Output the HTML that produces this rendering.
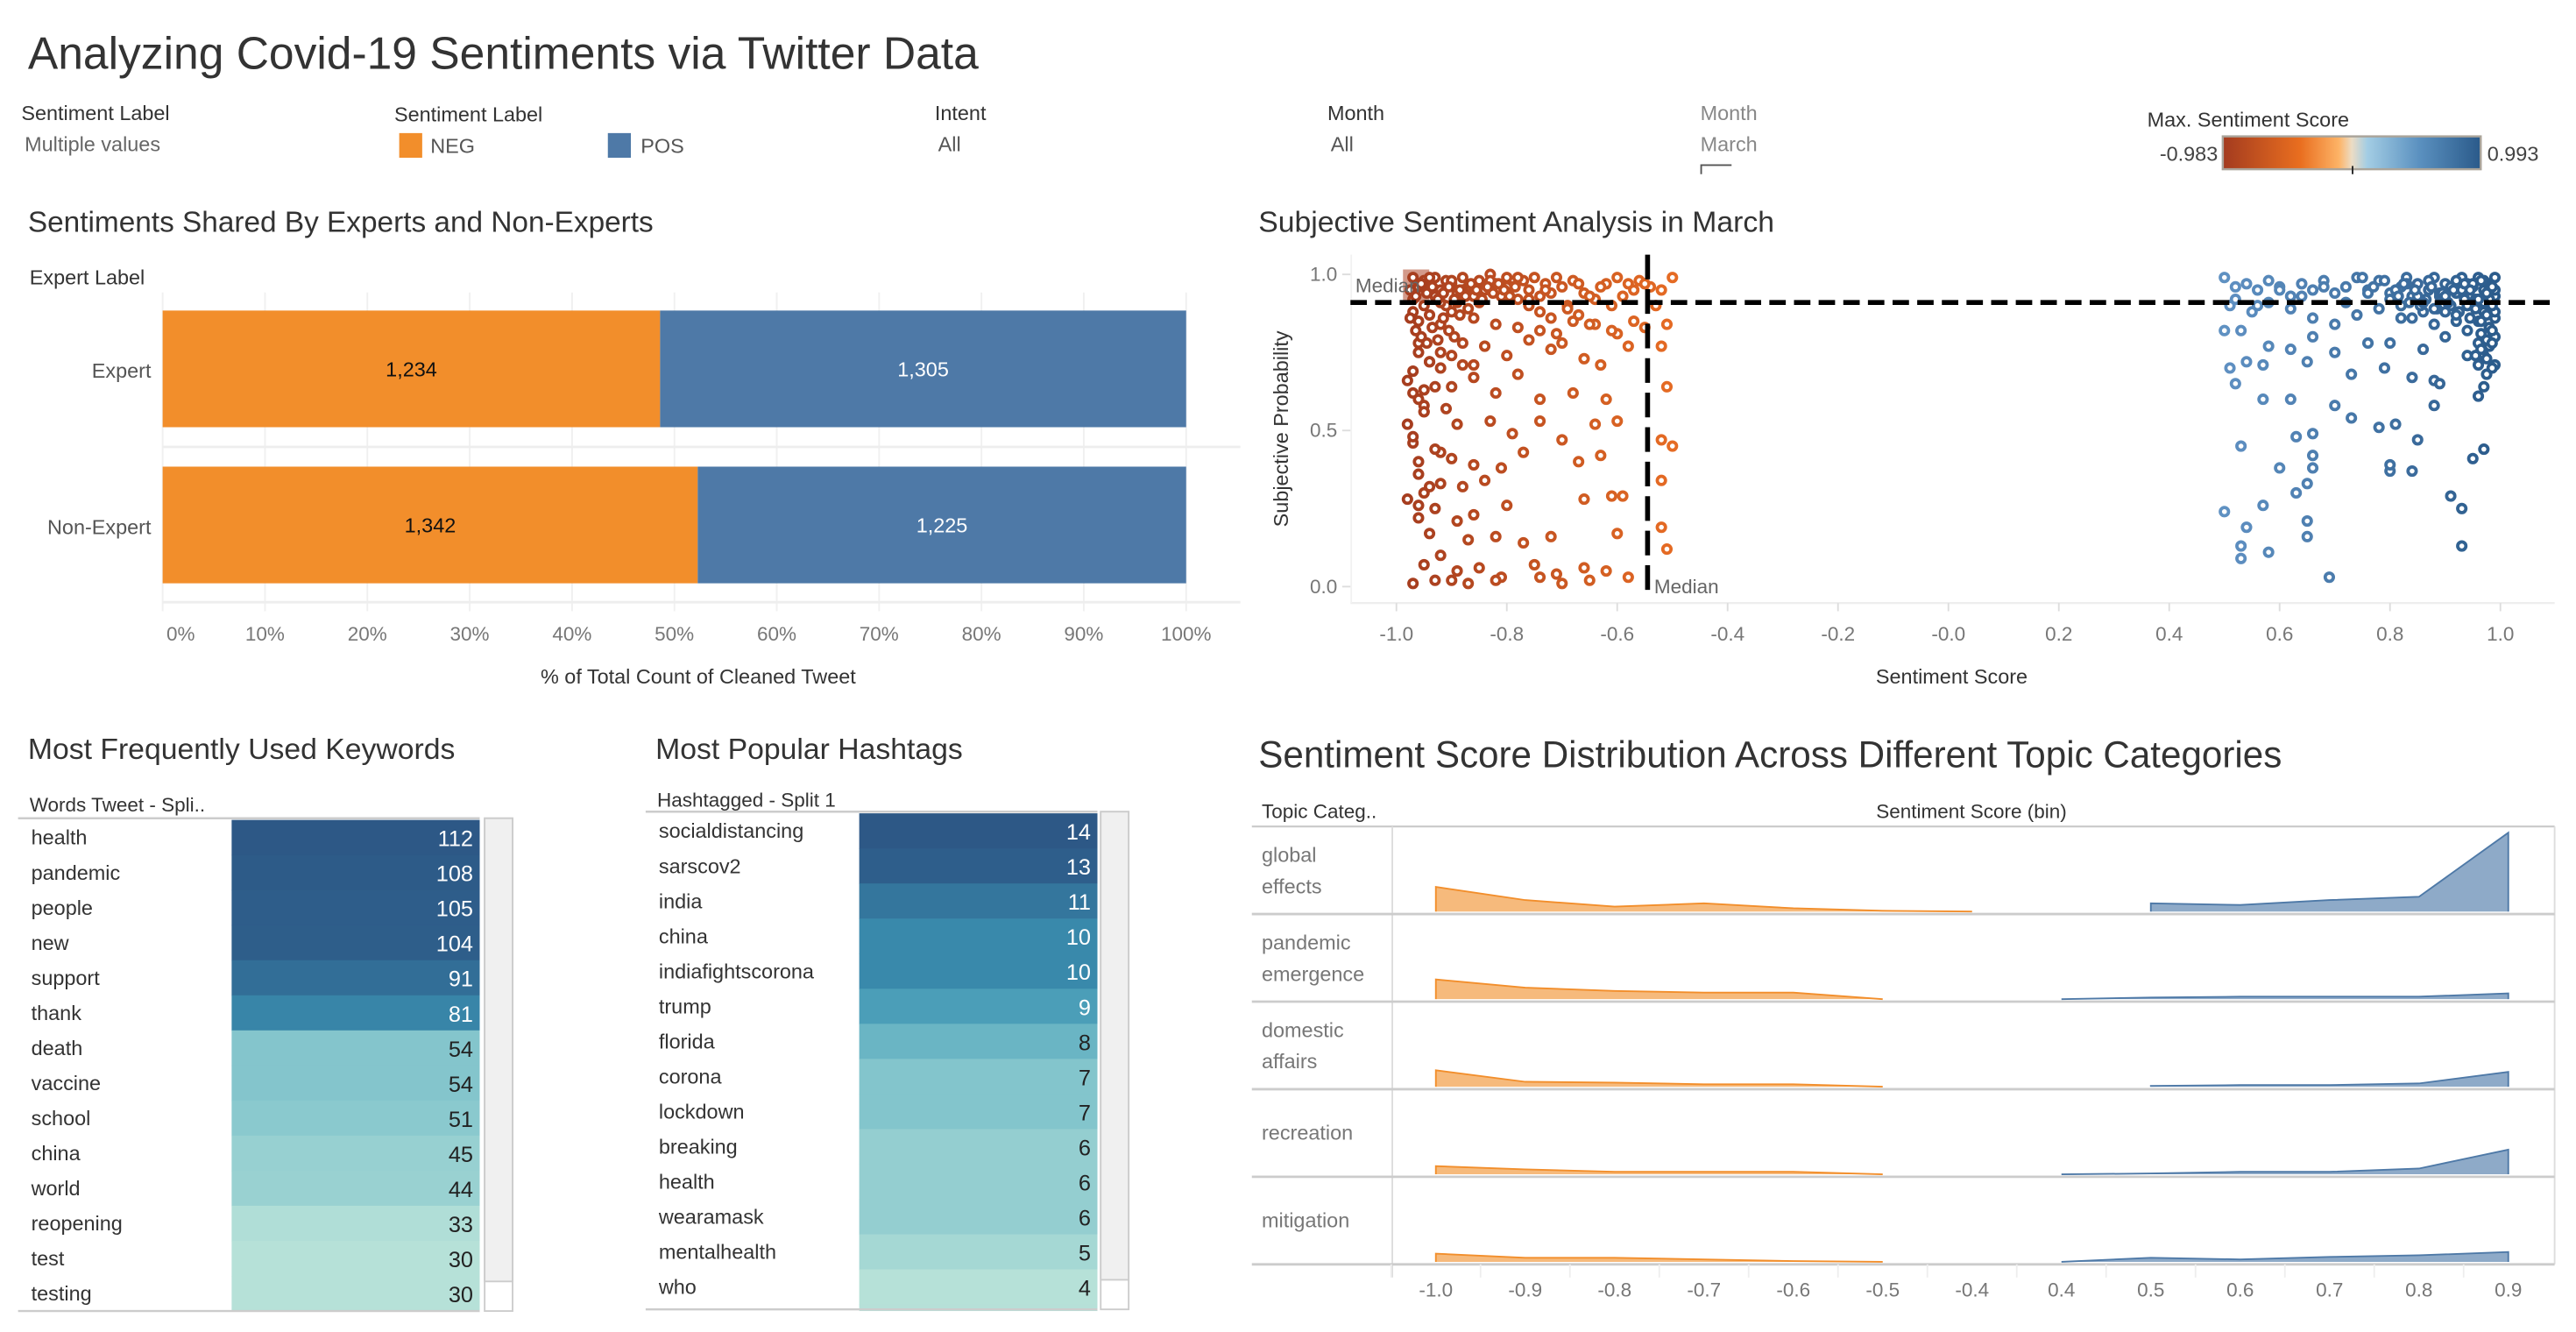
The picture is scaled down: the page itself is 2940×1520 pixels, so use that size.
<!DOCTYPE html>
<html><head><meta charset="utf-8"><style>
html,body{margin:0;padding:0;background:#fff;}
svg{display:block;font-family:"Liberation Sans",sans-serif;}
</style></head><body>
<svg id="s" width="2940" height="1520" viewBox="0 0 1568 810.67" xmlns="http://www.w3.org/2000/svg">
<defs>
<linearGradient id="cg" x1="0" x2="1" y1="0" y2="0">
<stop offset="0" stop-color="#a33b1f"/><stop offset="0.3" stop-color="#e96e1f"/><stop offset="0.45" stop-color="#fdb366"/><stop offset="0.5" stop-color="#ecdcc4"/><stop offset="0.56" stop-color="#a3cde4"/><stop offset="0.76" stop-color="#5b91c0"/><stop offset="1" stop-color="#2a5a8a"/>
</linearGradient>
</defs>
<text x="17" y="42" font-size="27.5" fill="#333">Analyzing Covid-19 Sentiments via Twitter Data</text>
<g font-size="12.5">
<text x="13" y="73" fill="#333">Sentiment Label</text>
<text x="15" y="92" fill="#666">Multiple values</text>
<text x="240" y="74" fill="#333">Sentiment Label</text>
<rect x="243" y="81" width="14" height="15" fill="#f28e2b"/>
<text x="262" y="93" fill="#555">NEG</text>
<rect x="370" y="81" width="14" height="15" fill="#4e79a7"/>
<text x="390" y="93" fill="#555">POS</text>
<text x="569" y="73" fill="#333">Intent</text>
<text x="571" y="92" fill="#555">All</text>
<text x="808" y="73" fill="#333">Month</text>
<text x="810" y="92" fill="#555">All</text>
<text x="1035" y="73" fill="#888">Month</text>
<text x="1035" y="92" fill="#888">March</text>
<path d="M1035.5 106 V100.5 H1054" stroke="#555" fill="none"/>
<text x="1307" y="77" fill="#333">Max. Sentiment Score</text>
<text x="1350" y="98" text-anchor="end" fill="#444">-0.983</text>
<rect x="1353" y="83" width="157" height="20" fill="url(#cg)" stroke="#aaa49a" stroke-width="1.3"/>
<line x1="1432" y1="101" x2="1432" y2="106" stroke="#222"/>
<text x="1514" y="98" fill="#444">0.993</text>
</g>
<g id="bar"></g>
<g id="sc"></g>
<g id="kw"></g>
<g id="ht"></g>
<g id="ar"></g>
</svg>
<script>
// ---- bar chart data
const barCats = ["Expert","Non-Expert"];
const negCounts = [1234,1342];
const posCounts = [1305,1225];
const pctTicks = [0,10,20,30,40,50,60,70,80,90,100];
// ---- scatter data
const negScore = [-0.97,-0.96,-0.95,-0.94,-0.93,-0.92,-0.91,-0.9,-0.89,-0.88,-0.87,-0.86,-0.85,-0.84,-0.83,-0.82,-0.81,-0.8,-0.79,-0.78,-0.77,-0.76,-0.75,-0.74,-0.73,-0.72,-0.7,-0.68,-0.66,-0.64,-0.62,-0.6,-0.58,-0.56,-0.54,-0.52,-0.5,-0.97,-0.95,-0.93,-0.91,-0.89,-0.87,-0.97,-0.96,-0.94,-0.92,-0.9,-0.86,-0.82,-0.78,-0.74,-0.71,-0.68,-0.64,-0.6,-0.55,-0.51,
-0.96,-0.94,-0.92,-0.97,-0.88,-0.84,-0.8,-0.76,-0.72,-0.7,-0.66,-0.63,-0.58,-0.52,-0.95,-0.9,-0.86,-0.82,-0.78,-0.74,-0.68,-0.62,-0.51,-0.95,-0.89,-0.83,-0.79,-0.74,-0.7,-0.64,-0.6,-0.52,-0.5,-0.97,-0.92,-0.96,-0.9,-0.86,-0.81,-0.77,-0.67,-0.63,-0.52,-0.95,-0.92,-0.88,-0.84,-0.8,-0.66,-0.61,-0.59,-0.96,-0.93,-0.89,-0.86,-0.94,-0.87,-0.82,-0.77,-0.72,-0.6,-0.52,-0.51,-0.95,-0.92,-0.89,-0.85,-0.81,-0.75,-0.71,-0.66,-0.62,-0.58,-0.97,-0.93,-0.9,-0.87,-0.82,-0.74,-0.7,-0.65,
-0.96,-0.94,-0.92,-0.9,-0.88,-0.85,-0.83,-0.8,-0.78,-0.76,-0.73,-0.71,-0.69,-0.67,-0.65,-0.63,-0.61,-0.59,-0.57,-0.55,
-0.975,-0.965,-0.955,-0.945,-0.935,-0.925,-0.915,-0.905,-0.895,-0.885,-0.875,-0.865,-0.855,-0.845,-0.835,-0.825,-0.815,-0.805,-0.795,-0.785,-0.975,-0.965,-0.955,-0.945,-0.935,-0.925,-0.915,-0.905,-0.895,-0.885,-0.96,-0.94,-0.92,-0.9,-0.88,-0.86,-0.98,-0.97,-0.96,-0.95,-0.93,-0.91,-0.76,-0.74,-0.72,-0.69,-0.67,-0.65,-0.61,-0.57,-0.53,-0.98,-0.97,-0.95,-0.93,-0.96,-0.94,-0.98,-0.96];
const negProb = [0.99,0.97,0.98,0.96,0.99,0.95,0.98,0.97,0.94,0.99,0.96,0.93,0.98,0.95,1.0,0.97,0.93,0.99,0.96,0.92,0.98,0.95,0.99,0.93,0.97,0.94,0.96,0.98,0.94,0.92,0.97,0.99,0.97,0.98,0.96,0.95,0.99,0.92,0.9,0.93,0.9,0.91,0.89,0.88,0.85,0.87,0.84,0.88,0.86,0.84,0.83,0.82,0.81,0.85,0.84,0.81,0.83,0.84,
0.78,0.72,0.75,0.69,0.71,0.77,0.74,0.79,0.76,0.78,0.73,0.71,0.77,0.77,0.63,0.64,0.67,0.62,0.68,0.6,0.62,0.6,0.64,0.56,0.52,0.53,0.49,0.53,0.47,0.52,0.53,0.47,0.45,0.46,0.43,0.4,0.41,0.39,0.38,0.43,0.4,0.42,0.34,0.3,0.33,0.32,0.34,0.26,0.28,0.29,0.29,0.22,0.25,0.21,0.23,0.17,0.15,0.16,0.14,0.16,0.17,0.19,0.12,0.07,0.1,0.05,0.06,0.03,0.07,0.04,0.06,0.05,0.03,0.01,0.02,0.02,0.01,0.02,0.03,0.01,0.02,
0.96,0.99,0.91,0.98,0.95,0.91,0.98,0.96,0.99,0.9,0.95,0.99,0.9,0.97,0.93,0.96,0.9,0.93,0.95,0.97,
0.95,0.93,0.97,0.94,0.96,0.92,0.94,0.96,0.92,0.95,0.93,0.97,0.95,0.92,0.96,0.94,0.97,0.95,0.93,0.96,0.86,0.82,0.8,0.78,0.83,0.79,0.86,0.82,0.8,0.87,0.75,0.72,0.7,0.74,0.78,0.71,0.66,0.62,0.6,0.58,0.64,0.57,0.92,0.88,0.86,0.89,0.87,0.84,0.82,0.85,0.9,0.52,0.48,0.56,0.44,0.36,0.32,0.28,0.26];
const posScore = [0.99,0.98,0.97,0.96,0.95,0.99,0.98,0.97,0.99,0.98,0.96,0.95,0.94,0.93,0.92,0.91,0.9,0.89,0.88,0.87,0.86,0.85,0.84,0.83,0.82,0.8,0.78,0.76,0.74,0.72,0.7,0.68,0.66,0.64,0.62,0.6,0.58,0.56,0.54,0.52,0.5,0.99,0.98,0.97,0.99,0.96,0.94,0.92,0.9,0.88,0.86,0.82,0.78,0.74,0.7,0.66,0.62,0.58,0.55,0.51,
0.5,0.53,0.58,0.62,0.66,0.7,0.76,0.8,0.86,0.9,0.94,0.96,0.51,0.54,0.57,0.65,0.73,0.79,0.84,0.88,0.89,0.52,0.57,0.62,0.7,0.73,0.78,0.81,0.88,0.96,0.97,0.53,0.63,0.66,0.85,0.97,0.95,0.6,0.66,0.66,0.8,0.8,0.84,0.63,0.65,0.91,0.93,0.5,0.57,0.65,0.54,0.65,0.53,0.58,0.53,0.93,0.69,
0.99,0.98,0.97,0.96,0.99,0.98,0.97,0.95,0.94,0.93,0.92,0.91,0.89,0.87,0.85,0.83,0.81,0.79,0.77,0.75,
0.985,0.975,0.965,0.955,0.945,0.935,0.985,0.975,0.965,0.955,0.945,0.935,0.925,0.915,0.905,0.895,0.885,0.875,0.865,0.855,0.845,0.835,0.825,0.815,0.985,0.975,0.965,0.955,0.985,0.975,0.965,0.985,0.975,0.96,0.94,0.92,0.9,0.88,0.86,0.84,0.82,0.8,0.76,0.72,0.68,0.64,0.6,0.56,0.52];
const posProb = [0.99,0.97,0.95,0.99,0.96,0.93,0.9,0.88,0.86,0.83,0.85,0.91,0.97,0.99,0.94,0.9,0.97,0.93,0.99,0.95,0.91,0.97,0.93,0.99,0.96,0.94,0.98,0.95,0.99,0.96,0.94,0.98,0.95,0.97,0.93,0.96,0.98,0.95,0.97,0.92,0.99,0.8,0.77,0.74,0.71,0.78,0.82,0.85,0.88,0.84,0.88,0.86,0.89,0.87,0.84,0.86,0.89,0.91,0.88,0.9,
0.82,0.82,0.77,0.76,0.8,0.75,0.78,0.78,0.76,0.8,0.74,0.71,0.7,0.72,0.71,0.72,0.68,0.7,0.67,0.66,0.65,0.65,0.6,0.6,0.58,0.54,0.51,0.52,0.58,0.61,0.64,0.45,0.48,0.49,0.47,0.44,0.41,0.38,0.42,0.38,0.37,0.39,0.37,0.3,0.33,0.29,0.25,0.24,0.26,0.21,0.19,0.16,0.13,0.11,0.09,0.13,0.03,
0.95,0.92,0.98,0.92,0.88,0.96,0.91,0.97,0.9,0.95,0.98,0.96,0.94,0.98,0.93,0.97,0.95,0.98,0.96,0.99,
0.96,0.94,0.98,0.92,0.95,0.97,0.9,0.87,0.85,0.89,0.86,0.92,0.88,0.95,0.91,0.94,0.89,0.96,0.92,0.9,0.95,0.91,0.97,0.93,0.82,0.79,0.76,0.74,0.78,0.73,0.81,0.7,0.68,0.92,0.9,0.87,0.93,0.89,0.91,0.86,0.9,0.92,0.94,0.91,0.96,0.93,0.95,0.9,0.96];
const scXTicks = [-1.0,-0.8,-0.6,-0.4,-0.2,0.0,0.2,0.4,0.6,0.8,1.0];
const scYTicks = [0.0,0.5,1.0];
const medianScore = -0.545;
const medianProb = 0.91;
// ---- keywords table data
const kwWords = ["health","pandemic","people","new","support","thank","death","vaccine","school","china","world","reopening","test","testing"];
const kwCounts = [112,108,105,104,91,81,54,54,51,45,44,33,30,30];
// ---- hashtags table data
const htTags = ["socialdistancing","sarscov2","india","china","indiafightscorona","trump","florida","corona","lockdown","breaking","health","wearamask","mentalhealth","who"];
const htCounts = [14,13,11,10,10,9,8,7,7,6,6,6,5,4];
// ---- area chart data
const binLabels = ["-1.0","-0.9","-0.8","-0.7","-0.6","-0.5","-0.4","0.4","0.5","0.6","0.7","0.8","0.9"];
const topics = [["global","effects"],["pandemic","emergence"],["domestic","affairs"],["recreation"],["mitigation"]];
const negArea = [
 [15,7,3,5,2,0.5,0],
 [12,7,5,4,4,0,null],
 [10,3,2.5,1.5,1.5,0,null],
 [5,3,1.5,1.5,1.5,0,null],
 [5,2.5,2.5,1.5,0.5,0,null]];
const posArea = [
 [null,5,4,7,9,48],
 [0,1,1.5,1.5,1.5,3.5],
 [null,0.5,1,1,2,9],
 [0,0.5,1.5,1.5,3.5,15],
 [0,2.5,1.5,3,4,6]];

const NS="http://www.w3.org/2000/svg";
function el(tag,attrs,parent,txt){const e=document.createElementNS(NS,tag);for(const k in attrs)e.setAttribute(k,attrs[k]);if(txt!==undefined)e.textContent=txt;parent.appendChild(e);return e;}

// ===== Bar chart
(function(){
const g=document.getElementById('bar');
const x=p=>99+p*(722-99)/100;
let t=el('text',{x:17,y:141,'font-size':17.8,fill:'#333'},g,'Sentiments Shared By Experts and Non-Experts');


t=el('text',{x:18,y:173,'font-size':12.5,fill:'#333'},g,'Expert Label');


pctTicks.forEach(p=>{
 const l=el('line',{x1:x(p),x2:x(p),y1:178,y2:372,stroke:'#f0f0f0'},g);
 
 
 const tl=el('text',{x:Math.max(x(p),110),y:390,'font-size':12,fill:'#777','text-anchor':'middle'},g,p+'%');
 
 
});
el('line',{x1:99,x2:755,y1:272,y2:272,stroke:'#eee','stroke-width':1.5},g);
el('line',{x1:99,x2:755,y1:366.5,y2:366.5,stroke:'#eee','stroke-width':1.5},g);
barCats.forEach((c,i)=>{
 const y0=189+i*95, h=71, tot=negCounts[i]+posCounts[i], np=negCounts[i]/tot*100;
 const r1=el('rect',{x:x(0),y:y0,width:x(np)-x(0),height:h,fill:'#f28e2b'},g);
 
 
 const r2=el('rect',{x:x(np),y:y0,width:x(100)-x(np),height:h,fill:'#4e79a7'},g);
 
 
 const a=el('text',{x:(x(0)+x(np))/2,y:y0+40,'font-size':12.5,fill:'#111','text-anchor':'middle'},g,negCounts[i].toLocaleString('en-US'));
 
 
 const b=el('text',{x:(x(np)+x(100))/2,y:y0+40,'font-size':12.5,fill:'#fff','text-anchor':'middle'},g,posCounts[i].toLocaleString('en-US'));
 
 
 const lb=el('text',{x:92,y:y0+41,'font-size':12.5,fill:'#555','text-anchor':'end'},g,c);
 
 
});
t=el('text',{x:425,y:416,'font-size':12.5,fill:'#333','text-anchor':'middle'},g,'% of Total Count of Cleaned Tweet');


})();

// ===== Scatter
(function(){
const g=document.getElementById('sc');
const x=v=>850+(v+1)*336, y=v=>357-v*190;
function lerp(a,b,t){return a.map((v,i)=>Math.round(v+(b[i]-v)*t));}
function col(v){
 const stops=[[-1,[163,59,31]],[-0.45,[236,112,36]],[0.45,[100,150,200]],[1,[42,90,138]]];
 for(let i=0;i<stops.length-1;i++){if(v<=stops[i+1][0]){const t=(v-stops[i][0])/(stops[i+1][0]-stops[i][0]);const c=lerp(stops[i][1],stops[i+1][1],Math.max(0,t));return 'rgb('+c.join(',')+')';}}
 return 'rgb(42,90,138)';
}
let t=el('text',{x:766,y:141,'font-size':18,fill:'#333'},g,'Subjective Sentiment Analysis in March');


el('line',{x1:822,x2:1555,y1:367,y2:367,stroke:'#eee','stroke-width':1.2},g);
el('line',{x1:822.5,x2:822.5,y1:155,y2:367,stroke:'#f2f2f2'},g);
scXTicks.forEach(v=>{
 el('line',{x1:x(v),x2:x(v),y1:367,y2:372,stroke:'#ddd'},g);
 const tl=el('text',{x:x(v),y:390,'font-size':12,fill:'#777','text-anchor':'middle'},g,(v<=0?'-':'')+Math.abs(v).toFixed(1));
 
 
});
scYTicks.forEach(v=>{
 el('line',{x1:817,x2:822,y1:y(v),y2:y(v),stroke:'#ddd'},g);
 const tl=el('text',{x:814,y:y(v)+4,'font-size':12,fill:'#777','text-anchor':'end'},g,v.toFixed(1));
 
 
});
t=el('text',{x:1188,y:416,'font-size':12.5,fill:'#333','text-anchor':'middle'},g,'Sentiment Score');


t=el('text',{x:0,y:0,'font-size':12.5,fill:'#333','text-anchor':'middle',transform:'translate(784,261) rotate(-90)'},g,'Subjective Probability');


el('rect',{x:854,y:164,width:16,height:20,fill:'#d39a8a'},g);
function pts(xs,ys){xs.forEach((v,i)=>{
 const c=el('circle',{cx:x(v),cy:y(ys[i]),r:2.5,fill:'#fff',stroke:col(v),'stroke-width':2},g);
 
 
});}
pts(negScore,negProb);pts(posScore,posProb);
let m=el('line',{x1:822,x2:1555,y1:y(medianProb),y2:y(medianProb),stroke:'#000','stroke-width':3,'stroke-dasharray':'10 5'},g);


m=el('line',{x1:x(medianScore),x2:x(medianScore),y1:155,y2:362,stroke:'#000','stroke-width':3,'stroke-dasharray':'15 6'},g);


t=el('text',{x:825,y:178,'font-size':12,fill:'#666'},g,'Median');


t=el('text',{x:x(medianScore)+4,y:361,'font-size':12,fill:'#666'},g,'Median');


})();

// ===== Tables
function colorFor(v,max,min){
 const stops=[[0,[182,225,216]],[0.35,[122,192,202]],[0.55,[59,146,178]],[0.8,[47,100,143]],[1,[45,88,134]]];
 const t=(v-min)/(max-min);
 for(let i=0;i<stops.length-1;i++){if(t<=stops[i+1][0]){const u=(t-stops[i][0])/(stops[i+1][0]-stops[i][0]);return 'rgb('+stops[i][1].map((c,k)=>Math.round(c+(stops[i+1][1][k]-c)*u)).join(',')+')';}}
 return 'rgb(45,88,134)';
}
function table(id,title,tx,header,hy,lineY,colX,colW,sbX,words,counts,minV,extra,whiteMin){
 const g=document.getElementById(id);
 let t=el('text',{x:tx,y:462,'font-size':18,fill:'#333'},g,title);
 
 
 t=el('text',{x:tx+1,y:hy,'font-size':12,fill:'#333'},g,header);
 
 
 const rh=21.35;
 words.forEach((w,i)=>{
  const y0=lineY+1+i*rh;
  const r=el('rect',{x:colX,y:y0,width:colW,height:rh+0.3,fill:colorFor(counts[i],counts[0],minV)},g);
  
  
  const a=el('text',{x:tx+2,y:y0+15,'font-size':12.5,fill:'#333'},g,w);
  
  
  const b=el('text',{x:colX+colW-4,y:y0+16,'font-size':13.5,fill:counts[i]>=whiteMin?'#fff':'#222','text-anchor':'end'},g,counts[i]);
  
  
 });
 if(extra){el('rect',{x:colX,y:lineY+1+words.length*rh,width:colW,height:4,fill:'#b6e0d8'},g);}
 el('line',{x1:tx-6,x2:colX+colW,y1:lineY,y2:lineY,stroke:'#ccc','stroke-width':1.3},g);
 const bottom=lineY+1+words.length*rh+(extra?3:0);
 el('line',{x1:tx-6,x2:colX+colW,y1:bottom,y2:bottom,stroke:'#ccc','stroke-width':1.3},g);
 const sb=el('rect',{x:sbX,y:lineY,width:17,height:bottom-lineY,fill:'#fff',stroke:'#ccc'},g);
 
 
 el('rect',{x:sbX,y:lineY,width:17,height:bottom-lineY-18,fill:'#f0f0f0',stroke:'#ccc'},g);
}
table('kw','Most Frequently Used Keywords',17,'Words Tweet - Spli..',494,498,141,151,295,kwWords,kwCounts,30,false,60);
table('ht','Most Popular Hashtags',399,'Hashtagged - Split 1',491,494,523,145,670,htTags,htCounts,4,true,9);

// ===== Area chart
(function(){
const g=document.getElementById('ar');
const x=i=>874+i*54.4;
let t=el('text',{x:766,y:467,'font-size':22.5,fill:'#333'},g,'Sentiment Score Distribution Across Different Topic Categories');


t=el('text',{x:768,y:498,'font-size':12,fill:'#333'},g,'Topic Categ..');


t=el('text',{x:1200,y:498,'font-size':12,fill:'#333','text-anchor':'middle'},g,'Sentiment Score (bin)');


const top=503, rh=53.3, scale=1.0;
el('line',{x1:762,x2:1555,y1:top,y2:top,stroke:'#ccc','stroke-width':1.2},g);
el('line',{x1:847.5,x2:847.5,y1:top,y2:top+5*rh+8,stroke:'#ddd'},g);
el('line',{x1:1555,x2:1555,y1:top,y2:top+5*rh,stroke:'#ddd'},g);
topics.forEach((tp,r)=>{
 const base=top+(r+1)*rh-1.5;
 tp.forEach((line,k)=>{
  const ly=top+(r+0.5)*rh+(tp.length===1?4:(k===0?-5:14));
  const lt=el('text',{x:768,y:ly,'font-size':12.5,fill:'#777'},g,line);
  
  
 });
 function area(vals,off,fill,stroke,name){
  const idx=[];vals.forEach((v,i)=>{if(v!==null)idx.push(i);});
  let d='M'+x(off+idx[0])+' '+base;
  idx.forEach(i=>{d+=' L'+x(off+i)+' '+(base-vals[i]*scale);});
  d+=' L'+x(off+idx[idx.length-1])+' '+base+' Z';
  const p=el('path',{d:d,fill:fill,stroke:'none'},g);
  
  
  let d2='M'+x(off+idx[0])+' '+base;
  idx.forEach(i=>{d2+=' L'+x(off+i)+' '+(base-vals[i]*scale);});
  d2+=' L'+x(off+idx[idx.length-1])+' '+base;
  el('path',{d:d2,fill:'none',stroke:stroke,'stroke-width':1},g);
 }
 area(negArea[r],0,'#f6ba7c','#f28e2b','area-neg');
 area(posArea[r],7,'#8eaac8','#4e79a7','area-pos');
 el('line',{x1:762,x2:1555,y1:base+1.5,y2:base+1.5,stroke:'#ccc','stroke-width':1.5},g);
});
binLabels.forEach((b,i)=>{
 el('line',{x1:x(i)-27.2,x2:x(i)-27.2,y1:top+5*rh,y2:top+5*rh+8,stroke:'#eee'},g);
 const tl=el('text',{x:x(i),y:789,'font-size':12,fill:'#777','text-anchor':'middle'},g,b);
 
 
});
})();
</script>
</body></html>
